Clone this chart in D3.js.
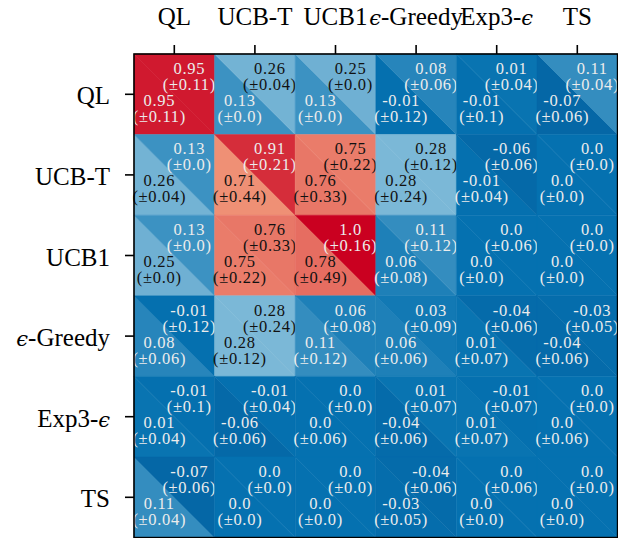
<!DOCTYPE html>
<html>
<head>
<meta charset="utf-8">
<script src="https://cdn.jsdelivr.net/npm/d3@7"></script>
<style>
  body { margin: 0; background: #fff; }
  text { font-family: "Liberation Serif", "DejaVu Serif", serif; }
</style>
</head>
<body>
<div class="chart"></div>
<script>
// algorithms on both axes
const algos = ["QL", "UCB-T", "UCB1", "\u03f5-Greedy", "Exp3-\u03f5", "TS"]

// upper-right triangle of each cell (row = y label, col = x label)
const upperMean = [
    [0.95, 0.26, 0.25, 0.08, 0.01, 0.11],
    [0.13, 0.91, 0.75, 0.28, -0.06, 0.0],
    [0.13, 0.76, 1.0, 0.11, 0.0, 0.0],
    [-0.01, 0.28, 0.06, 0.03, -0.04, -0.03],
    [-0.01, -0.01, 0.0, 0.01, -0.01, 0.0],
    [-0.07, 0.0, 0.0, -0.04, 0.0, 0.0]
]
const upperStd = [
    [0.11, 0.04, 0.0, 0.06, 0.04, 0.04],
    [0.0, 0.21, 0.22, 0.12, 0.06, 0.0],
    [0.0, 0.33, 0.16, 0.12, 0.06, 0.0],
    [0.12, 0.24, 0.08, 0.09, 0.06, 0.05],
    [0.1, 0.04, 0.0, 0.07, 0.07, 0.0],
    [0.06, 0.0, 0.0, 0.06, 0.06, 0.0]
]
// lower-left triangle
const lowerMean = [
    [0.95, 0.13, 0.13, -0.01, -0.01, -0.07],
    [0.26, 0.71, 0.76, 0.28, -0.01, 0.0],
    [0.25, 0.75, 0.78, 0.06, 0.0, 0.0],
    [0.08, 0.28, 0.11, 0.06, 0.01, -0.04],
    [0.01, -0.06, 0.0, -0.04, 0.01, 0.0],
    [0.11, 0.0, 0.0, -0.03, 0.0, 0.0]
]
const lowerStd = [
    [0.11, 0.0, 0.0, 0.12, 0.1, 0.06],
    [0.04, 0.44, 0.33, 0.24, 0.04, 0.0],
    [0.0, 0.22, 0.49, 0.08, 0.0, 0.0],
    [0.06, 0.12, 0.12, 0.06, 0.07, 0.06],
    [0.04, 0.06, 0.06, 0.06, 0.07, 0.06],
    [0.04, 0.0, 0.0, 0.05, 0.0, 0.0]
]

const width = 618
const height = 538
const marginLeft = 134, marginTop = 54, cellSize = 80.6

const svg = d3.select('.chart').append('svg')
    .attr('width', width)
    .attr('height', height)

const x = d3.scaleBand().domain(algos).range([marginLeft, marginLeft + cellSize * 6])
const y = d3.scaleBand().domain(algos).range([marginTop, marginTop + cellSize * 6])

const color = d3.scaleLinear()
    .domain([-0.1, 0, 1 / 3, 2 / 3, 1])
    .range(['#0563a2', '#0571b0', '#92c5de', '#f4a582', '#ca0020'])
    .clamp(true)

// python-ish number printing: 0.0, 1.0, -0.01
const fmt = (v) => Number.isInteger(v) ? v.toFixed(1) : String(v)
const textColor = (v) => (v > 0.2 && v < 0.85) ? '#111' : '#ececec'

let cells = []
algos.forEach((r, i) => {
    algos.forEach((c, j) => {
        cells.push({ row: r, col: c, um: upperMean[i][j], us: upperStd[i][j], lm: lowerMean[i][j], ls: lowerStd[i][j] })
    })
})

const g = svg.append('g')
const cell = g.selectAll('g.cell').data(cells).enter().append('g').attr('class', 'cell')

cell.append('path')
    .attr('d', (d) => {
        const x0 = x(d.col), y0 = y(d.row), x1 = x0 + x.bandwidth(), y1 = y0 + y.bandwidth()
        return `M${x0},${y0}L${x0},${y1}L${x1},${y1}Z`
    })
    .attr('fill', (d) => color(d.lm))
    .attr('stroke', (d) => color(d.lm))
    .attr('stroke-width', 0.5)

cell.append('path')
    .attr('d', (d) => {
        const x0 = x(d.col), y0 = y(d.row), x1 = x0 + x.bandwidth(), y1 = y0 + y.bandwidth()
        return `M${x0},${y0}L${x1},${y0}L${x1},${y1}Z`
    })
    .attr('fill', (d) => color(d.um))
    .attr('stroke', (d) => color(d.um))
    .attr('stroke-width', 0.5)

function addLabel(sel, dx, dy, txt, col) {
    sel.append('text')
        .attr('x', (d) => x(d.col) + x.bandwidth() / 2 + dx)
        .attr('y', (d) => y(d.row) + y.bandwidth() / 2 + dy)
        .attr('text-anchor', 'middle')
        .attr('dominant-baseline', 'central')
        .style('font-size', '16.5px')
        .style('letter-spacing', '0.7px')
        .attr('fill', col)
        .text(txt)
}
addLabel(cell, 15, -26, (d) => fmt(d.um), (d) => textColor(d.um))
addLabel(cell, 15, -10, (d) => `(\u00b1${fmt(d.us)})`, (d) => textColor(d.um))
addLabel(cell, -15, 6, (d) => fmt(d.lm), (d) => textColor(d.lm))
addLabel(cell, -15, 22, (d) => `(\u00b1${fmt(d.ls)})`, (d) => textColor(d.lm))

// frame
svg.append('rect')
    .attr('x', marginLeft).attr('y', marginTop)
    .attr('width', cellSize * 6).attr('height', cellSize * 6)
    .attr('fill', 'none').attr('stroke', '#000').attr('stroke-width', 1.6)

// axes on top and left
const xAxis = d3.axisTop(x).tickSize(9).tickPadding(20)
const yAxis = d3.axisLeft(y).tickSize(9).tickPadding(15)
const gx = svg.append('g').attr('transform', `translate(0, ${marginTop})`).call(xAxis)
const gy = svg.append('g').attr('transform', `translate(${marginLeft}, 0)`).call(yAxis)
gy.selectAll('text').attr('dy', '0.4em')
;[gx, gy].forEach((a) => {
    a.select('.domain').remove()
    a.selectAll('line').attr('stroke', '#000').attr('stroke-width', 1.6)
    a.selectAll('text')
        .attr('fill', '#000')
        .style('font-size', '25px')
        .each(function (d) {
            // italic math epsilon, like the LaTeX labels
            const t = d3.select(this).text('')
            d.split(/(\u03f5)/).filter((s) => s.length).forEach((s) => {
                const span = t.append('tspan').text(s)
                if (s === '\u03f5') span.style('font-family', '"DejaVu Serif", serif').style('font-style', 'italic').style('font-size', '21px')
            })
        })
})
</script>
</body>
</html>
